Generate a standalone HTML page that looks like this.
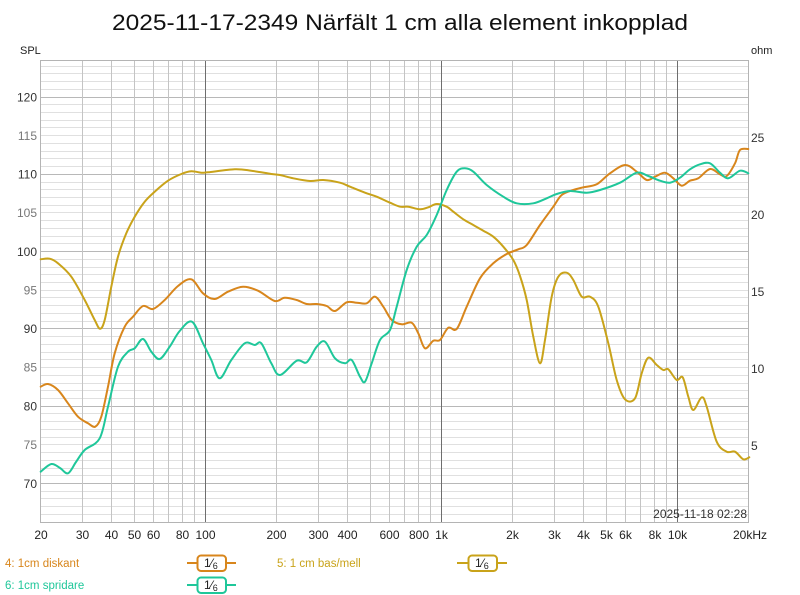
<!DOCTYPE html>
<html><head><meta charset="utf-8"><style>
html,body{margin:0;padding:0;background:#fff;}
svg{display:block;font-family:"Liberation Sans",Arial,sans-serif;}
</style></head><body>
<svg id="chart" width="800" height="595" viewBox="0 0 800 595" xmlns="http://www.w3.org/2000/svg">
<rect x="0" y="0" width="800" height="595" fill="#fff"/>
<text x="400" y="30" text-anchor="middle" font-size="22" fill="#111" textLength="576" lengthAdjust="spacingAndGlyphs">2025-11-17-2349 Närfält 1 cm alla element inkopplad</text>
<text x="20" y="54" font-size="11" fill="#222">SPL</text>
<text x="751" y="54" font-size="11" fill="#222">ohm</text>
<g stroke="#e0e0e0" stroke-width="1">
<line x1="40" x2="749" y1="66.5" y2="66.5"/><line x1="40" x2="749" y1="73.5" y2="73.5"/><line x1="40" x2="749" y1="81.5" y2="81.5"/><line x1="40" x2="749" y1="89.5" y2="89.5"/>
<line x1="40" x2="749" y1="104.5" y2="104.5"/><line x1="40" x2="749" y1="112.5" y2="112.5"/><line x1="40" x2="749" y1="120.5" y2="120.5"/><line x1="40" x2="749" y1="127.5" y2="127.5"/><line x1="40" x2="749" y1="135.5" y2="135.5"/><line x1="40" x2="749" y1="143.5" y2="143.5"/><line x1="40" x2="749" y1="151.5" y2="151.5"/><line x1="40" x2="749" y1="158.5" y2="158.5"/><line x1="40" x2="749" y1="166.5" y2="166.5"/>
<line x1="40" x2="749" y1="182.5" y2="182.5"/><line x1="40" x2="749" y1="189.5" y2="189.5"/><line x1="40" x2="749" y1="197.5" y2="197.5"/><line x1="40" x2="749" y1="205.5" y2="205.5"/><line x1="40" x2="749" y1="212.5" y2="212.5"/><line x1="40" x2="749" y1="220.5" y2="220.5"/><line x1="40" x2="749" y1="228.5" y2="228.5"/><line x1="40" x2="749" y1="236.5" y2="236.5"/><line x1="40" x2="749" y1="243.5" y2="243.5"/>
<line x1="40" x2="749" y1="259.5" y2="259.5"/><line x1="40" x2="749" y1="267.5" y2="267.5"/><line x1="40" x2="749" y1="274.5" y2="274.5"/><line x1="40" x2="749" y1="282.5" y2="282.5"/><line x1="40" x2="749" y1="290.5" y2="290.5"/><line x1="40" x2="749" y1="297.5" y2="297.5"/><line x1="40" x2="749" y1="305.5" y2="305.5"/><line x1="40" x2="749" y1="313.5" y2="313.5"/><line x1="40" x2="749" y1="321.5" y2="321.5"/>
<line x1="40" x2="749" y1="336.5" y2="336.5"/><line x1="40" x2="749" y1="344.5" y2="344.5"/><line x1="40" x2="749" y1="352.5" y2="352.5"/><line x1="40" x2="749" y1="359.5" y2="359.5"/><line x1="40" x2="749" y1="367.5" y2="367.5"/><line x1="40" x2="749" y1="375.5" y2="375.5"/><line x1="40" x2="749" y1="383.5" y2="383.5"/><line x1="40" x2="749" y1="390.5" y2="390.5"/><line x1="40" x2="749" y1="398.5" y2="398.5"/>
<line x1="40" x2="749" y1="413.5" y2="413.5"/><line x1="40" x2="749" y1="421.5" y2="421.5"/><line x1="40" x2="749" y1="429.5" y2="429.5"/><line x1="40" x2="749" y1="437.5" y2="437.5"/><line x1="40" x2="749" y1="444.5" y2="444.5"/><line x1="40" x2="749" y1="452.5" y2="452.5"/><line x1="40" x2="749" y1="460.5" y2="460.5"/><line x1="40" x2="749" y1="468.5" y2="468.5"/><line x1="40" x2="749" y1="475.5" y2="475.5"/>
<line x1="40" x2="749" y1="491.5" y2="491.5"/><line x1="40" x2="749" y1="498.5" y2="498.5"/><line x1="40" x2="749" y1="506.5" y2="506.5"/><line x1="40" x2="749" y1="514.5" y2="514.5"/>
</g>
<g stroke="#b8b8b8" stroke-width="1">
<line x1="40" x2="749" y1="97.5" y2="97.5"/><line x1="40" x2="749" y1="174.5" y2="174.5"/><line x1="40" x2="749" y1="251.5" y2="251.5"/><line x1="40" x2="749" y1="328.5" y2="328.5"/><line x1="40" x2="749" y1="406.5" y2="406.5"/><line x1="40" x2="749" y1="483.5" y2="483.5"/>
</g>
<g stroke="#c4c4c4" stroke-width="1">
<line y1="60" y2="522" x1="82.5" x2="82.5"/><line y1="60" y2="522" x1="111.5" x2="111.5"/><line y1="60" y2="522" x1="134.5" x2="134.5"/><line y1="60" y2="522" x1="153.5" x2="153.5"/><line y1="60" y2="522" x1="168.5" x2="168.5"/><line y1="60" y2="522" x1="182.5" x2="182.5"/><line y1="60" y2="522" x1="194.5" x2="194.5"/>
<line y1="60" y2="522" x1="276.5" x2="276.5"/><line y1="60" y2="522" x1="318.5" x2="318.5"/><line y1="60" y2="522" x1="347.5" x2="347.5"/><line y1="60" y2="522" x1="370.5" x2="370.5"/><line y1="60" y2="522" x1="389.5" x2="389.5"/><line y1="60" y2="522" x1="404.5" x2="404.5"/><line y1="60" y2="522" x1="418.5" x2="418.5"/><line y1="60" y2="522" x1="430.5" x2="430.5"/>
<line y1="60" y2="522" x1="512.5" x2="512.5"/><line y1="60" y2="522" x1="554.5" x2="554.5"/><line y1="60" y2="522" x1="583.5" x2="583.5"/><line y1="60" y2="522" x1="606.5" x2="606.5"/><line y1="60" y2="522" x1="625.5" x2="625.5"/><line y1="60" y2="522" x1="640.5" x2="640.5"/><line y1="60" y2="522" x1="654.5" x2="654.5"/><line y1="60" y2="522" x1="666.5" x2="666.5"/>
</g>
<g stroke="#6e6e6e" stroke-width="1">
<line y1="60" y2="522" x1="205.5" x2="205.5"/><line y1="60" y2="522" x1="441.5" x2="441.5"/><line y1="60" y2="522" x1="677.5" x2="677.5"/>
</g>
<rect x="40.5" y="60.5" width="708" height="462" fill="none" stroke="#b4b4b4" stroke-width="1"/>
<g font-size="12" text-anchor="end">
<text x="37" y="101.5" fill="#333">120</text>
<text x="37" y="140" fill="#777">115</text>
<text x="37" y="178.5" fill="#333">110</text>
<text x="37" y="217" fill="#777">105</text>
<text x="37" y="256" fill="#333">100</text>
<text x="37" y="294.5" fill="#777">95</text>
<text x="37" y="333" fill="#333">90</text>
<text x="37" y="371.5" fill="#777">85</text>
<text x="37" y="410.5" fill="#333">80</text>
<text x="37" y="449" fill="#777">75</text>
<text x="37" y="488" fill="#333">70</text>
</g>
<g font-size="12" fill="#333">
<text x="751" y="142">25</text>
<text x="751" y="219">20</text>
<text x="751" y="296">15</text>
<text x="751" y="373">10</text>
<text x="751" y="450">5</text>
</g>
<g font-size="12" fill="#222" text-anchor="middle">
<text x="41" y="539">20</text><text x="82.5" y="539">30</text><text x="111.5" y="539">40</text><text x="134.5" y="539">50</text><text x="153.5" y="539">60</text><text x="182.5" y="539">80</text><text x="205.5" y="539">100</text>
<text x="276.5" y="539">200</text><text x="318.5" y="539">300</text><text x="347.5" y="539">400</text><text x="389.5" y="539">600</text><text x="419" y="539">800</text><text x="441.5" y="539">1k</text>
<text x="512.5" y="539">2k</text><text x="554.5" y="539">3k</text><text x="583.5" y="539">4k</text><text x="606.5" y="539">5k</text><text x="625.5" y="539">6k</text><text x="655" y="539">8k</text><text x="677.5" y="539">10k</text>
<text x="733" y="539" text-anchor="start">20kHz</text>
</g>
<text x="747" y="518" font-size="12" fill="#333" text-anchor="end">2025-11-18 02:28</text>
<g id="curves" fill="none" stroke-width="2" stroke-linejoin="round" stroke-linecap="round">
<polyline stroke="#c9a31a" points="40.7,259.3 49.7,258.7 58,263.3 71.3,276.7 84.7,300 94.7,320 100,328.7 104.7,320 111.3,286.7 118,256.7 126.3,233.3 134.7,216.7 144.7,201.7 154.7,191.7 168,180.7 181.3,174 191.3,171.3 201.3,172.7 208,172.3 234.7,169.3 251.3,170.7 271.3,174 280,175 293.3,178.3 310,181 323.3,180 340,182.7 350,186.7 365,192.7 376.7,196.7 390,202.7 400,206.7 408.3,206.7 420,209.3 428.3,207.3 436.7,204 446.7,206.7 453.3,211.7 463.3,219.3 473.3,225 483.3,230.7 493.3,236.7 503.3,246.7 513.3,260 520,276 526.7,300 533.3,336.7 540,363.3 545,340 551.7,296.7 558.3,276.7 566.7,272.7 573.3,280 581.7,296.7 590,296.7 598.3,306.7 608.3,343.3 616.7,380 625,399.3 635,398.3 641.7,373.3 648.3,357.7 656.7,365 663.3,370 668.3,369.3 676.7,380 682.7,377.3 688.3,396.7 693.3,410 701.7,397.3 706.7,406.7 716.7,441.7 726.7,451.7 735,451.7 743.3,459.3 749.3,457.3"/>
<polyline stroke="#d8861c" points="40.7,386.7 48,384 58,390 68,403.3 78,416.7 88,423.3 95.3,426.7 101.3,416.7 108,386.7 114.7,353.3 124.7,326.7 133,316.7 143,306 153,309 164.7,300 178,286 191.3,279.3 203,293.3 214.7,299 228,291.7 243,286.7 258,290.7 274.7,301 284.7,297.7 296.7,300 306.7,304 316.7,304 326.7,306 335,311 346.7,302.3 356.7,302.7 366.7,303.3 375,296.7 383.3,306.7 391.7,320 401.7,324.3 411.7,322.7 418.3,333.3 425,348.3 433.3,340.7 440,340 448.3,327.7 456.7,329 466.7,306.7 480,278.3 493.3,263.3 506.7,254 518.3,249.3 526.7,245 540,225 553.3,206.7 561.7,195 573.3,190 583.3,187.3 596.7,184.3 610,173.3 625,165 636.7,171.7 646.7,180 655,176.7 665,172.7 673.3,178.3 681.7,185.7 690,180.7 698.3,178.3 710,169 720,174.3 726.7,176 735,163.3 740,150 748.3,149"/>
<polyline stroke="#1fc79a" points="40.7,471.7 51.3,464 60,468 68,473.3 76,462 84.7,450 99.7,438.3 108,406.7 118,366.7 128,351.7 134.7,348.3 143,339 151.3,351.7 159.7,359 169.7,346.7 179.7,331 192,321.7 203,343.3 211.3,360 219.7,378.3 231.3,360 244.7,343.3 254.7,345 261.3,343.3 271.3,363.3 280,375 296.7,360.7 306.7,362.3 316.7,346.7 325,341.7 335,358.3 345,363.3 351.7,360 360,376.7 365,381.7 371.7,363.3 380,340 390,330 396.7,306.7 406.7,270 416.7,246.7 426.7,235 436.7,215 446.7,190 456.7,171.7 465,168.3 473.3,171.7 486.7,185 503.3,196.7 516.7,203.3 533.3,203.3 546.7,198.3 556.7,194 570,191 586.7,192.7 600,190 620,182.7 636.7,172.7 648.3,176 660,180.7 670,182.7 680,177.7 690,169.3 700,164.3 710,163.3 720,172.7 728.3,178.3 740,170.7 748.3,173.3"/>
</g>
<g font-size="11.5">
<text x="5" y="567" fill="#d8861c">4: 1cm diskant</text>
<text x="5" y="589" fill="#1fc79a">6: 1cm spridare</text>
<text x="277" y="567" fill="#c9a31a">5: 1 cm bas/mell</text>
</g>
<g stroke-width="2" fill="#fff">
<line x1="187" y1="563" x2="236" y2="563" stroke="#d8861c"/>
<rect x="197.5" y="555.5" width="28.5" height="15.5" rx="3.5" stroke="#d8861c"/>
<line x1="187" y1="585" x2="236" y2="585" stroke="#1fc79a"/>
<rect x="197.5" y="577.5" width="28.5" height="15.5" rx="3.5" stroke="#1fc79a"/>
<line x1="457" y1="563" x2="507" y2="563" stroke="#c9a31a"/>
<rect x="468.5" y="555.5" width="28.5" height="15.5" rx="3.5" stroke="#c9a31a"/>
</g>
<g fill="#222" font-size="12">
<text x="204" y="567">1<tspan>⁄</tspan><tspan font-size="9" dy="2">6</tspan></text>
<text x="204" y="589">1<tspan>⁄</tspan><tspan font-size="9" dy="2">6</tspan></text>
<text x="475" y="567">1<tspan>⁄</tspan><tspan font-size="9" dy="2">6</tspan></text>
</g>
</svg>
<script>
(function(){
  var NS="http://www.w3.org/2000/svg";
  var g=document.getElementById("curves");
  var pls=g.getElementsByTagName("polyline");
  var list=[];for(var i=0;i<pls.length;i++)list.push(pls[i]);
  list.forEach(function(pl){
    var raw=pl.getAttribute("points").trim().split(/\s+/).map(function(s){var a=s.split(",");return [parseFloat(a[0]),parseFloat(a[1])];});
    var n=raw.length; if(n<3) return;
    var d="M"+raw[0][0]+","+raw[0][1];
    for(var k=0;k<n-1;k++){
      var p0=raw[k>0?k-1:0],p1=raw[k],p2=raw[k+1],p3=raw[k+2<n?k+2:n-1];
      var t=1/6;
      var c1x=p1[0]+(p2[0]-p0[0])*t,c1y=p1[1]+(p2[1]-p0[1])*t;
      var c2x=p2[0]-(p3[0]-p1[0])*t,c2y=p2[1]-(p3[1]-p1[1])*t;
      d+=" C"+c1x.toFixed(2)+","+c1y.toFixed(2)+" "+c2x.toFixed(2)+","+c2y.toFixed(2)+" "+p2[0]+","+p2[1];
    }
    var path=document.createElementNS(NS,"path");
    path.setAttribute("d",d);
    path.setAttribute("stroke",pl.getAttribute("stroke"));
    g.insertBefore(path,pl);
    g.removeChild(pl);
  });
})();
</script>
</body></html>
